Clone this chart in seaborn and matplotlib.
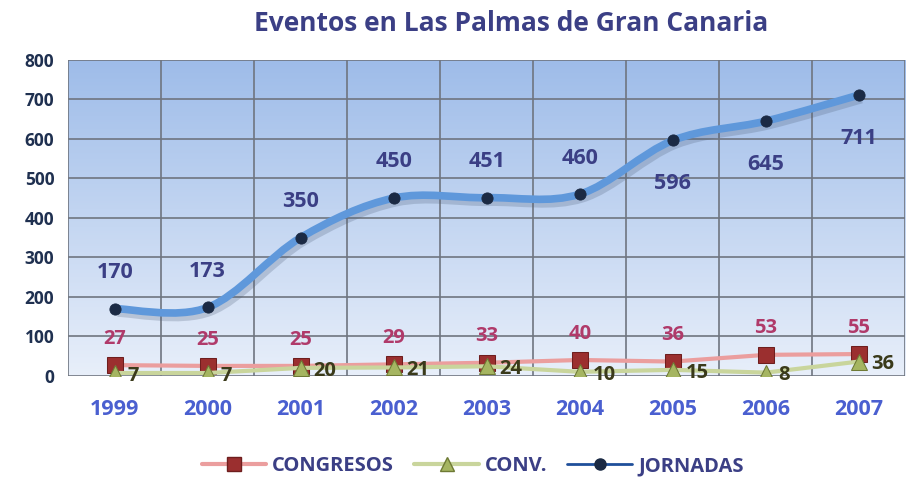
import matplotlib
matplotlib.use('Agg')
import matplotlib.pyplot as plt
import numpy as np
import pandas as pd
import seaborn as sns
from matplotlib.path import Path
from matplotlib.patches import PathPatch
from matplotlib.lines import Line2D

# Data
years = ['1999', '2000', '2001', '2002', '2003', '2004', '2005', '2006', '2007']
congresos = [27, 25, 25, 29, 33, 40, 36, 53, 55]
conv = [7, 7, 20, 21, 24, 10, 15, 8, 36]
jornadas = [170, 173, 350, 450, 451, 460, 596, 645, 711]
y_ticks = [0, 100, 200, 300, 400, 500, 600, 700, 800]

df = pd.DataFrame({'x': range(len(years)), 'year': years,
                   'CONGRESOS': congresos, 'CONV.': conv, 'JORNADAS': jornadas})

sns.set_style('white')
plt.rcParams['font.family'] = ['Open Sans', 'DejaVu Sans']

fig = plt.figure(figsize=(9.09, 4.83), dpi=100)
ax = fig.add_axes([0.075, 0.222, 0.921, 0.654])
ax.set_xlim(-0.5, 8.5)
ax.set_ylim(0, 800)

# gradient background
grad = np.linspace(0, 1, 256).reshape(-1, 1)
cmap = matplotlib.colors.LinearSegmentedColormap.from_list('bg', ['#e8effa', '#9ebce9'])
ax.imshow(grad, extent=[-0.5, 8.5, 0, 800], origin='lower', aspect='auto', cmap=cmap, zorder=0)

# grid
for v in y_ticks:
    ax.axhline(v, color='#6f7580', lw=1.2, zorder=1)
for i in range(len(years) + 1):
    ax.axvline(i - 0.5, color='#6f7580', lw=1.2, zorder=1)
for s in ax.spines.values():
    s.set_visible(False)

# smooth JORNADAS curve (Catmull-Rom -> cubic Bezier)
xs = df['x'].to_numpy(float)
ys = df['JORNADAS'].to_numpy(float)
verts = [(xs[0], ys[0])]
codes = [Path.MOVETO]
for i in range(len(xs) - 1):
    p0 = (xs[max(i - 1, 0)], ys[max(i - 1, 0)])
    p1 = (xs[i], ys[i])
    p2 = (xs[i + 1], ys[i + 1])
    p3 = (xs[min(i + 2, len(xs) - 1)], ys[min(i + 2, len(xs) - 1)])
    c1 = (p1[0] + (p2[0] - p0[0]) / 6, p1[1] + (p2[1] - p0[1]) / 6)
    c2 = (p2[0] - (p3[0] - p1[0]) / 6, p2[1] - (p3[1] - p1[1]) / 6)
    verts += [c1, c2, p2]
    codes += [Path.CURVE4] * 3
path = Path(verts, codes)
ax.add_patch(PathPatch(path, fill=False, edgecolor='#50607a', lw=6, alpha=0.25, zorder=3,
                       transform=ax.transData + matplotlib.transforms.ScaledTranslation(2 / 72, -3 / 72, fig.dpi_scale_trans)))
ax.add_patch(PathPatch(path, fill=False, edgecolor='#5f98db', lw=5.5, zorder=4, capstyle='round'))
sns.scatterplot(data=df, x='x', y='JORNADAS', ax=ax, color='#1b2a44', s=65, zorder=5,
                edgecolor='#1b2a44', legend=False)

# CONGRESOS and CONV.
sns.lineplot(data=df, x='x', y='CONGRESOS', ax=ax, color='#eb9e9e', lw=3, zorder=4,
             marker='s', markersize=11, markerfacecolor='#9b2f2f', markeredgecolor='#6e1e1e')
sns.lineplot(data=df, x='x', y='CONV.', ax=ax, color='#c9d59c', lw=3, zorder=4,
             marker='^', markersize=11, markerfacecolor='#a5b561', markeredgecolor='#6e7a35')

# labels
for i, v in enumerate(jornadas):
    off = 26 if i < 6 else -31
    ax.annotate(str(v), (i, v), xytext=(0, off), textcoords='offset points', ha='center',
                va='center', fontsize=15.5, fontweight='bold', color='#3b3f85', zorder=6)
for i, v in enumerate(congresos):
    ax.annotate(str(v), (i, v), xytext=(0, 19), textcoords='offset points', ha='center',
                va='center', fontsize=14.5, fontweight='bold', color='#b03a6a', zorder=6)
for i, v in enumerate(conv):
    ax.annotate(str(v), (i, v), xytext=(9, -2), textcoords='offset points', ha='left',
                va='center', fontsize=14.5, fontweight='bold', color='#3a3a1a', zorder=6)

ax.set_xticks(range(len(years)))
ax.set_xticklabels(years, fontsize=15.5, fontweight='bold', color='#4a5fd0')
ax.set_yticks(y_ticks)
ax.set_yticklabels([str(t) for t in y_ticks], fontsize=12.5, fontweight='bold', color='#1f3050')
ax.tick_params(axis='x', length=0, pad=17)
ax.tick_params(axis='y', length=0, pad=10)
ax.set_xlabel('')
ax.set_ylabel('')

fig.text(0.562, 0.952, 'Eventos en Las Palmas de Gran Canaria', ha='center', va='center',
         fontsize=19, fontweight='bold', color='#3b3f85')

# legend
handles = [
    Line2D([], [], color='#eb9e9e', lw=3, marker='s', markersize=10, markerfacecolor='#9b2f2f', markeredgecolor='#6e1e1e'),
    Line2D([], [], color='#c9d59c', lw=3, marker='^', markersize=10, markerfacecolor='#a5b561', markeredgecolor='#6e7a35'),
    Line2D([], [], color='#1f4f9a', lw=2, marker='o', markersize=8, markerfacecolor='#1b2a44', markeredgecolor='#1b2a44'),
]
leg = fig.legend(handles, ['CONGRESOS', 'CONV.', 'JORNADAS'], loc='center', bbox_to_anchor=(0.52, 0.035),
                 ncol=3, frameon=False, fontsize=14.5, handlelength=3.2, columnspacing=1.0, handletextpad=0.3)
for t in leg.get_texts():
    t.set_color('#3b3f85')
    t.set_fontweight('bold')

fig.savefig('out.png', dpi=100)
